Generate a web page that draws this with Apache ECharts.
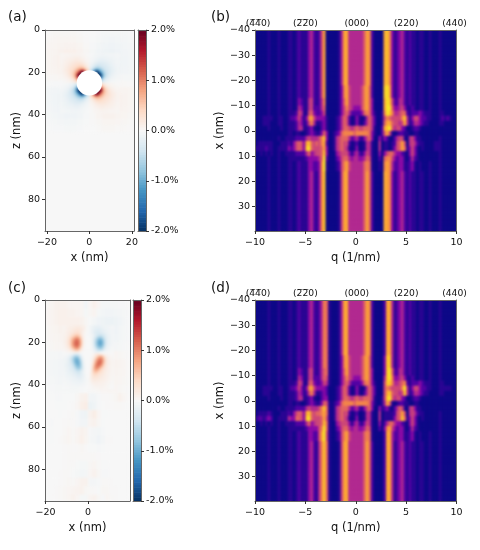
<!DOCTYPE html>
<html><head><meta charset="utf-8">
<style>
html,body{margin:0;padding:0;background:#fff}#c{width:480px;height:550px}
#c canvas[data-zr-dom-id="zr_1"]{filter:blur(1px);clip-path:path('M45 30H134V231H45Z M255 30H456.5V231H255Z M45 300H130V501H45Z M255 300H456.5V501H255Z')}
</style>
<script src="https://cdn.jsdelivr.net/npm/echarts@6/dist/echarts.min.js"></script>
</head><body><div id="c"></div>
<script>
// ---------- panel (b): intensity rows, 80 q-bins from -10 to 10, scale 0..10
const bFarTop=[0,0,0,0, 0,1,0,0, 0,1,0,0, 0,1,1,0, 1,2,1,1, 1,3,4,2, 1,2,5,8, 0,0,0,0, 0,1,4,8, 8,4,4,4, 4,4,4,6, 8,7,2,0, 0,0,0,8, 9,7,3,1, 2,3,4,2, 1,2,1,1, 0,1,1,0, 0,1,0,0, 0,1,0,0, 0,0,0,0];
const bM16=[0,0,0,0, 0,1,0,0, 0,1,0,0, 0,1,1,0, 1,2,1,1, 1,3,4,2, 1,2,5,8, 0,0,0,0, 0,1,3,7, 8,5,4,4, 4,4,5,7, 8,6,2,0, 0,0,0,9, 10,8,3,1, 2,3,4,2, 1,2,1,1, 0,1,1,0, 0,1,0,0, 0,1,0,0, 0,0,0,0];
const bM12=[0,0,0,0, 0,1,0,0, 0,1,0,0, 0,1,1,0, 1,3,2,1, 1,4,5,2, 1,2,4,7, 0,0,0,0, 0,1,3,6, 8,5,4,4, 4,4,5,7, 8,6,3,0, 0,0,0,8, 10,9,5,2, 2,4,4,2, 1,2,1,1, 0,1,1,0, 0,1,0,0, 0,1,0,0, 0,0,0,0];
const bM10=[0,0,0,0, 0,1,0,0, 0,1,0,0, 0,1,1,0, 1,4,3,1, 1,4,5,2, 2,2,4,6, 0,0,0,0, 0,1,3,5, 7,5,4,3, 3,3,5,7, 8,6,3,0, 0,0,0,8, 10,10,6,3, 3,4,5,3, 1,1,2,1, 0,1,1,0, 0,1,0,0, 0,1,0,0, 0,0,0,0];
const bM8=[0,0,0,0, 0,1,0,0, 0,1,0,0, 0,1,1,1, 2,5,4,1, 1,5,6,3, 2,2,3,5, 0,0,0,0, 0,1,3,5, 6,4,2,2, 2,2,3,6, 7,6,3,1, 0,0,1,7, 10,9,7,4, 4,5,6,6, 2,1,2,2, 2,3,2,1, 1,1,0,0, 0,1,1,0, 0,0,0,0];
const bM6=[0,0,0,1, 1,1,1,0, 0,1,1,0, 0,1,2,2, 3,5,3,1, 3,7,8,5, 3,3,3,3, 1,0,0,0, 1,2,4,6, 5,2,0,1, 3,1,0,1, 4,6,4,2, 0,0,1,5, 7,6,5,5, 5,5,7,9, 4,1,3,5, 5,3,2,2, 1,1,0,0, 0,1,2,1, 2,1,0,0];
const bM4=[0,0,0,1, 1,1,0,0, 0,1,1,0, 0,1,1,1, 2,4,3,1, 2,5,7,4, 1,1,2,3, 1,0,0,0, 1,2,4,6, 5,2,0,1, 3,1,0,2, 4,6,4,2, 0,0,1,6, 8,8,6,5, 5,4,5,8, 4,1,2,4, 4,3,2,1, 1,0,0,0, 0,1,1,0, 0,0,0,0];
const bM2=[0,0,0,0, 0,1,0,0, 0,0,1,0, 0,1,1,1, 2,4,4,1, 1,2,3,1, 0,0,2,3, 1,0,0,0, 1,2,4,6, 6,5,4,5, 6,5,5,6, 6,6,4,1, 0,0,2,8, 9,10,6,4, 5,5,3,2, 0,0,1,2, 2,1,0,0, 0,0,0,0, 0,0,0,0, 0,0,0,0];
const bP0=[0,0,0,0, 0,0,0,0, 0,0,0,0, 0,1,1,0, 1,1,0,0, 1,2,3,2, 1,1,3,6, 3,0,0,1, 2,3,6,7, 7,7,7,6, 7,7,7,7, 7,6,3,1, 0,0,2,6, 8,5,1,0, 1,2,2,1, 1,0,0,1, 1,0,0,0, 0,0,0,0, 0,0,0,0, 0,0,0,0];
const bP2=[0,0,0,0, 0,0,0,0, 0,1,0,0, 1,1,1,1, 2,2,2,2, 4,5,4,4, 4,5,7,9, 3,0,0,1, 4,5,6,6, 6,4,2,3, 4,2,1,3, 5,6,3,0, 0,3,1,3, 2,0,0,2, 4,5,5,1, 0,4,5,3, 1,1,0,0, 0,0,0,0, 0,1,0,0, 0,0,0,0];
const bP4=[0,1,1,1, 1,1,1,0, 0,0,1,1, 1,2,1,3, 5,6,5,3, 8,9,6,5, 6,5,7,8, 2,0,0,1, 4,5,6,5, 5,2,0,1, 2,0,0,1, 4,4,1,0, 0,4,0,1, 1,0,1,2, 5,6,8,5, 0,4,5,4, 2,1,1,0, 0,0,0,1, 1,1,0,0, 0,0,0,0];
const bP6=[1,1,1,1, 2,1,1,0, 0,1,1,1, 1,3,2,3, 5,6,5,3, 9,10,6,5, 5,5,6,8, 3,0,0,1, 4,5,6,5, 4,1,0,1, 3,0,0,1, 4,4,1,0, 0,4,0,1, 1,0,1,3, 5,6,8,6, 1,3,5,3, 1,0,1,0, 0,0,0,1, 1,1,0,0, 0,0,0,0];
const bP8=[0,0,1,0, 1,0,1,0, 0,1,0,0, 1,1,1,1, 2,2,2,2, 4,6,3,4, 5,5,6,9, 3,0,0,0, 3,4,5,5, 5,3,1,3, 4,2,1,3, 5,4,1,0, 0,3,0,3, 5,6,6,4, 3,3,2,1, 0,3,5,3, 1,0,0,0, 0,0,0,0, 0,1,0,0, 0,0,0,0];
const bP10=[0,0,0,0, 0,1,0,0, 0,1,0,0, 0,1,1,1, 1,1,1,1, 2,3,3,3, 3,4,6,10, 2,0,0,0, 2,3,5,6, 6,4,3,4, 4,3,3,4, 6,5,1,0, 0,2,0,6, 7,7,5,3, 2,3,3,1, 0,2,4,2, 1,0,0,0, 0,0,0,0, 0,1,0,0, 0,0,0,0];
const bP13=[0,0,0,0, 0,1,0,0, 0,1,0,0, 0,1,1,0, 1,2,1,1, 1,3,3,2, 2,3,7,10, 1,0,0,0, 1,2,5,7, 8,5,4,4, 4,4,4,6, 7,6,1,0, 0,1,0,7, 8,7,4,2, 2,3,3,1, 1,2,3,1, 0,1,0,0, 0,1,0,0, 0,1,0,0, 0,0,0,0];
const bFarLow=[0,0,0,0, 0,1,0,0, 0,1,0,0, 0,1,1,0, 1,2,1,1, 1,3,4,2, 1,3,7,9, 0,0,0,0, 0,1,5,8, 8,4,4,4, 4,4,4,6, 8,6,2,0, 0,0,0,8, 8,7,3,1, 2,3,4,2, 1,2,1,1, 0,1,1,0, 0,1,0,0, 0,1,0,0, 0,0,0,0];
const bLayout=[[bFarTop,22],[bM16,5],[bM12,3],[bM10,2],[bM8,2],[bM6,2],[bM4,2],[bM2,2],[bP0,2],[bP2,2],[bP4,2],[bP6,2],[bP8,2],[bP10,2],[bP13,4],[bFarLow,24]];

// ---------- panel (d)
const dFarTop=[0,0,0,0, 0,1,0,0, 0,1,0,0, 0,1,1,0, 1,2,1,1, 1,3,4,2, 1,2,4,7, 6,1,0,0, 0,1,4,8, 8,4,4,4, 4,4,4,6, 8,7,2,0, 0,0,0,2, 8,8,4,1, 2,3,4,2, 1,2,1,1, 0,1,1,0, 0,1,0,0, 0,1,0,0, 0,0,0,0];
const dM16=[0,0,0,0, 0,1,0,0, 0,1,0,0, 0,1,1,0, 1,2,1,1, 1,3,4,2, 1,2,4,7, 6,1,0,0, 0,1,3,7, 8,5,4,4, 4,4,5,7, 8,6,2,0, 0,0,0,3, 9,9,4,1, 2,3,4,2, 1,2,1,1, 0,1,1,0, 0,1,0,0, 0,1,0,0, 0,0,0,0];
const dM12=[0,0,0,0, 0,1,0,0, 0,1,0,0, 0,1,1,0, 1,3,2,1, 1,4,5,2, 1,2,4,6, 6,1,0,0, 0,1,3,6, 8,5,4,4, 4,4,5,7, 8,6,3,0, 0,0,0,3, 9,10,6,2, 2,4,4,2, 1,2,1,1, 0,1,1,0, 0,1,0,0, 0,1,0,0, 0,0,0,0];
const dM10=[0,0,0,0, 0,1,0,0, 0,1,0,0, 0,1,1,0, 1,4,3,1, 1,4,5,2, 2,2,4,6, 5,1,0,0, 0,1,3,5, 7,5,4,3, 3,3,5,7, 8,6,3,0, 0,0,0,4, 9,10,7,3, 3,4,5,3, 1,1,2,1, 0,1,1,0, 0,1,0,0, 0,1,0,0, 0,0,0,0];
const dM8=[0,0,0,0, 0,1,0,0, 0,1,0,0, 0,1,1,1, 2,5,4,1, 1,5,6,3, 2,2,3,5, 4,1,0,0, 0,1,3,5, 6,4,2,2, 2,2,3,6, 7,6,3,1, 0,0,0,5, 9,9,7,4, 4,5,6,7, 2,1,2,2, 2,3,2,1, 1,1,0,0, 0,1,1,0, 0,0,0,0];
const dM6=[0,0,0,1, 1,1,1,0, 0,1,1,0, 0,1,2,2, 3,5,3,1, 3,7,8,5, 3,3,3,3, 2,0,0,0, 1,2,4,6, 5,2,0,1, 3,1,0,1, 4,6,4,2, 0,0,0,5, 7,6,5,5, 5,5,7,10, 4,1,3,5, 5,3,2,2, 1,1,0,0, 0,1,1,1, 1,1,0,0];
const dM4=[0,0,0,1, 1,1,0,0, 0,1,1,0, 0,1,1,1, 2,4,3,1, 2,5,7,4, 1,1,2,3, 2,0,0,0, 1,2,4,6, 5,2,0,1, 3,1,0,2, 4,6,4,2, 0,0,0,5, 8,9,6,5, 5,4,5,9, 4,1,2,4, 4,3,2,1, 1,0,0,0, 0,1,1,0, 0,0,0,0];
const dM2=[0,0,0,0, 0,1,0,0, 0,0,1,0, 0,1,1,1, 2,4,4,1, 1,2,3,1, 0,0,2,3, 3,0,0,0, 1,2,4,6, 6,5,4,5, 6,5,5,6, 6,6,4,1, 0,0,1,5, 9,10,6,4, 5,5,3,2, 0,0,1,2, 2,1,0,0, 0,0,0,0, 0,0,0,0, 0,0,0,0];
const dP0=[0,0,0,0, 0,0,0,0, 0,0,0,0, 0,1,1,0, 1,1,0,0, 1,2,3,2, 1,1,3,6, 5,1,0,1, 2,3,6,7, 7,7,7,6, 7,7,7,7, 7,6,3,1, 0,0,1,4, 8,6,1,0, 1,2,2,1, 1,0,0,1, 1,0,0,0, 0,0,0,0, 0,0,0,0, 0,0,0,0];
const dP2=[0,0,0,0, 0,0,0,0, 0,1,0,0, 1,1,1,1, 2,2,2,2, 4,5,4,4, 4,5,7,9, 6,1,0,1, 4,5,6,6, 6,4,2,3, 4,2,1,3, 5,6,3,0, 0,3,1,2, 3,1,0,2, 4,6,5,1, 0,4,5,3, 1,1,0,0, 0,0,0,0, 0,0,0,0, 0,0,0,0];
const dP4=[0,1,1,1, 1,2,1,0, 0,0,1,1, 1,2,1,3, 5,6,5,3, 8,9,6,5, 6,6,7,8, 6,1,0,1, 4,5,6,5, 5,2,0,1, 2,0,0,1, 4,4,1,0, 0,4,0,1, 1,1,1,2, 5,6,8,5, 0,4,5,4, 2,1,1,0, 0,0,0,0, 0,1,0,0, 0,0,0,0];
const dP6=[1,2,2,1, 2,3,2,0, 0,1,1,1, 1,4,3,3, 6,6,5,3, 9,10,6,5, 5,5,6,8, 5,1,0,1, 4,5,6,5, 4,1,0,1, 3,0,0,1, 4,4,1,0, 0,4,0,1, 1,1,1,3, 5,6,9,6, 1,3,5,3, 1,0,1,0, 0,0,0,0, 0,1,0,0, 0,0,0,0];
const dP8=[0,0,1,0, 1,0,1,0, 0,1,0,0, 1,1,1,1, 2,2,2,2, 4,6,3,4, 5,5,6,9, 6,1,0,0, 3,4,5,5, 5,3,1,3, 4,2,1,3, 5,4,1,0, 0,3,0,2, 4,6,6,4, 3,3,2,1, 0,3,5,3, 1,0,0,0, 0,0,0,0, 0,1,0,0, 0,0,0,0];
const dP10=[0,0,0,0, 0,1,0,0, 0,1,0,0, 0,1,1,1, 1,1,1,1, 2,3,3,3, 3,5,7,10, 6,1,0,0, 2,3,5,6, 6,4,3,4, 4,3,3,4, 6,5,1,0, 0,2,0,3, 7,8,5,3, 2,3,3,1, 0,2,4,2, 1,0,0,0, 0,0,0,0, 0,1,0,0, 0,0,0,0];
const dP13=[0,0,0,0, 0,1,0,0, 0,1,0,0, 0,1,1,0, 1,2,1,1, 1,3,3,2, 2,5,8,10, 5,1,0,0, 1,2,5,7, 8,5,4,4, 4,4,4,6, 7,6,1,0, 0,0,0,2, 8,8,4,2, 2,3,3,1, 1,2,3,1, 0,1,0,0, 0,1,0,0, 0,1,0,0, 0,0,0,0];
const dFarLow=[0,0,0,0, 0,1,0,0, 0,1,0,0, 0,1,1,0, 1,2,1,1, 1,3,4,2, 1,4,7,9, 6,1,0,0, 0,1,5,8, 8,4,4,4, 4,4,4,6, 8,6,2,0, 0,0,0,2, 8,8,4,1, 2,3,4,2, 1,2,1,1, 0,1,1,0, 0,1,0,0, 0,1,0,0, 0,0,0,0];
const dLayout=[[dFarTop,22],[dM16,5],[dM12,3],[dM10,2],[dM8,2],[dM6,2],[dM4,2],[dM2,2],[dP0,2],[dP2,2],[dP4,2],[dP6,2],[dP8,2],[dP10,2],[dP13,4],[dFarLow,24]];

// ---------- panel (a): strain in 0.01 %. Fine block 1 nm, x -13.5..13.5, z 11.5..38.5
const aFine=[
[3,4,4,5,5,6,6,7,6,6,5,4,2,1,-1,-2,-4,-5,-6,-6,-7,-6,-6,-5,-5,-4,-4,-3],
[4,5,6,7,7,8,9,9,10,8,6,5,3,2,-2,-3,-5,-6,-8,-10,-9,-9,-8,-7,-7,-6,-5,-4],
[4,6,7,9,10,11,12,14,14,12,10,7,4,3,-3,-4,-7,-10,-12,-14,-14,-12,-11,-10,-9,-7,-6,-4],
[5,7,9,11,12,14,16,18,18,16,14,10,6,4,-4,-6,-10,-14,-16,-18,-18,-16,-14,-12,-11,-9,-7,-5],
[5,7,10,12,15,18,21,24,25,25,21,15,9,6,-6,-9,-15,-21,-25,-25,-24,-21,-18,-15,-12,-10,-7,-5],
[6,8,11,14,18,22,26,30,33,36,33,26,15,9,-9,-15,-26,-33,-36,-33,-30,-26,-22,-18,-14,-11,-8,-6],
[6,9,12,16,21,26,32,35,43,50,50,40,23,14,-14,-23,-40,-50,-50,-43,-35,-32,-26,-21,-16,-12,-9,-6],
[7,9,14,18,24,30,35,48,65,80,90,75,45,25,-25,-45,-75,-90,-80,-65,-48,-35,-30,-24,-18,-14,-9,-7],
[6,10,14,18,25,33,43,65,90,135,190,150,70,35,-35,-70,-150,-190,-135,-90,-65,-43,-33,-25,-18,-14,-10,-6],
[6,8,12,16,25,36,50,80,135,240,245,0,0,0,0,0,0,-245,-240,-135,-80,-50,-36,-25,-16,-12,-8,-6],
[5,6,10,14,21,33,50,90,190,245,0,0,0,0,0,0,0,0,-245,-190,-90,-50,-33,-21,-14,-10,-6,-5],
[4,5,7,10,15,26,40,75,150,0,0,0,0,0,0,0,0,0,0,-150,-75,-40,-26,-15,-10,-7,-5,-4],
[2,3,4,6,9,15,23,45,70,0,0,0,0,0,0,0,0,0,0,-70,-45,-23,-15,-9,-6,-4,-3,-2],
[1,2,3,4,6,9,14,25,35,0,0,0,0,0,0,0,0,0,0,-35,-25,-14,-9,-6,-4,-3,-2,-1],
[-1,-2,-3,-4,-6,-9,-14,-25,-35,0,0,0,0,0,0,0,0,0,0,35,25,14,9,6,4,3,2,1],
[-2,-3,-4,-6,-9,-15,-23,-45,-70,0,0,0,0,0,0,0,0,0,0,70,45,23,15,9,6,4,3,2],
[-4,-5,-7,-10,-15,-26,-40,-75,-150,0,0,0,0,0,0,0,0,0,0,150,75,40,26,15,10,7,5,4],
[-5,-6,-10,-14,-21,-33,-50,-90,-190,-245,0,0,0,0,0,0,0,0,245,190,90,50,33,21,14,10,6,5],
[-6,-8,-12,-16,-25,-36,-50,-80,-135,-240,-245,0,0,0,0,0,0,245,240,135,80,50,36,25,16,12,8,6],
[-6,-10,-14,-18,-25,-33,-43,-65,-90,-135,-190,-150,-70,-35,35,70,150,190,135,90,65,43,33,25,18,14,10,6],
[-7,-9,-14,-18,-24,-30,-35,-48,-65,-80,-90,-75,-45,-25,25,45,75,90,80,65,48,35,30,24,18,14,9,7],
[-6,-9,-12,-16,-21,-26,-32,-35,-43,-50,-50,-40,-23,-14,14,23,40,50,50,43,35,32,26,21,16,12,9,6],
[-6,-8,-11,-14,-18,-22,-26,-30,-33,-36,-33,-26,-15,-9,9,15,26,33,36,33,30,26,22,18,14,11,8,6],
[-5,-7,-10,-12,-15,-18,-21,-24,-25,-25,-21,-15,-9,-6,6,9,15,21,25,25,24,21,18,15,12,10,7,5],
[-5,-7,-9,-11,-12,-14,-16,-18,-18,-16,-14,-10,-6,-4,4,6,10,14,16,18,18,16,14,12,11,9,7,5],
[-4,-6,-7,-9,-10,-11,-12,-14,-14,-12,-10,-7,-4,-3,3,4,7,10,12,14,14,12,11,10,9,7,6,4],
[-4,-5,-6,-7,-7,-8,-9,-9,-10,-8,-6,-5,-3,-2,2,3,5,6,8,10,9,9,8,7,7,6,5,4],
[-3,-4,-4,-5,-5,-6,-6,-7,-6,-6,-5,-4,-2,-1,1,2,4,5,6,6,7,6,6,5,5,4,4,3]];
// coarse halo: 3 nm cells, x -19.5..19.5, z 1.5..46.5
const aCoarse=[
[2,3,3,3,3,2,0,0,-2,-3,-3,-3,-3,-2],
[3,4,5,5,5,3,1,-1,-3,-5,-6,-5,-4,-3],
[4,5,6,7,7,5,2,-2,-5,-7,-8,-7,-5,-4],
[5,6,8,10,10,7,3,-3,-7,-10,-11,-8,-6,-5],
[5,7,10,14,18,10,3,-3,-10,-18,-14,-10,-7,-5],
[5,7,10,14,20,12,3,-3,-12,-20,-14,-10,-7,-5],
[5,6,8,10,12,8,2,-2,-8,-12,-10,-8,-6,-5],
[3,3,4,4,4,2,1,-1,-2,-4,-4,-4,-3,-3],
[-1,-2,-2,-2,-2,-1,0,0,1,2,2,2,2,1],
[-5,-6,-7,-8,-8,-4,-1,1,4,8,8,7,6,5],
[-5,-7,-10,-12,-14,-8,-2,2,8,14,12,10,7,5],
[-5,-7,-10,-14,-18,-10,-3,3,10,18,14,10,7,5],
[-4,-6,-8,-10,-12,-8,-3,3,8,12,10,8,6,4],
[-3,-5,-6,-8,-8,-6,-2,2,6,8,8,6,5,3],
[-2,-3,-4,-5,-5,-3,-1,1,3,5,5,4,3,2],
[-1,-2,-2,-3,-3,-2,0,0,2,3,3,2,2,1]];
const holeCentre=[[0,25]];

// ---------- panel (c): fine block 1 nm, x -11.5..11.5, z 12.5..41.5
const cFine=[
[5,8,10,12,12,14,16,16,15,12,8,2,-2,-8,-12,-15,-15,-14,-12,-10,-8,-6,-5,-4],
[6,8,12,14,15,18,20,22,18,14,8,2,-2,-8,-14,-18,-20,-20,-16,-12,-10,-8,-6,-4],
[6,10,12,15,18,22,26,25,22,14,6,2,-3,-8,-16,-22,-24,-24,-20,-15,-12,-8,-6,-5],
[7,10,14,18,22,28,32,32,22,12,5,1,-2,-8,-18,-26,-30,-28,-22,-18,-14,-10,-7,-5],
[8,10,14,22,32,42,50,46,30,12,4,1,-2,-5,-12,-24,-34,-40,-38,-30,-20,-12,-8,-5],
[8,12,18,30,45,60,74,68,45,16,4,0,-1,-4,-14,-32,-50,-62,-55,-38,-22,-14,-9,-5],
[8,12,22,38,62,85,105,95,60,20,4,0,0,-3,-18,-45,-72,-90,-80,-50,-26,-14,-9,-5],
[8,14,24,42,72,100,118,108,70,22,3,0,0,-3,-20,-52,-85,-105,-95,-58,-28,-14,-9,-5],
[8,14,24,42,75,105,122,110,72,22,3,0,0,-3,-20,-55,-88,-108,-98,-60,-28,-14,-9,-5],
[7,12,22,40,70,100,118,104,66,18,3,0,0,-3,-18,-50,-82,-100,-90,-55,-24,-12,-8,-4],
[6,10,16,30,55,80,98,85,48,12,2,0,0,-2,-14,-38,-65,-80,-72,-42,-18,-9,-5,-3],
[4,6,10,18,32,52,65,55,28,6,1,0,0,-2,-8,-24,-42,-55,-48,-26,-12,-6,-3,-2],
[2,3,4,6,10,16,20,15,6,2,0,0,0,-1,-6,-14,-18,-14,-8,-5,-3,-2,-1,-1],
[-1,-2,-3,-6,-10,-18,-25,-18,-6,-2,0,0,0,1,5,15,20,16,10,6,4,2,1,1],
[-3,-5,-8,-16,-32,-52,-62,-50,-25,-6,0,0,0,2,8,24,45,62,58,32,14,7,4,2],
[-5,-8,-14,-26,-48,-75,-92,-78,-42,-10,-1,0,0,3,14,42,72,95,88,50,22,10,6,3],
[-6,-10,-16,-28,-50,-82,-102,-92,-55,-15,-2,0,0,4,20,58,92,112,100,58,26,12,7,4],
[-7,-10,-16,-26,-45,-75,-100,-98,-65,-20,-3,0,0,5,30,72,105,118,100,55,26,12,8,5],
[-7,-12,-18,-24,-36,-62,-90,-95,-68,-24,-4,0,0,8,40,85,112,112,85,45,22,12,8,5],
[-7,-12,-16,-22,-30,-48,-75,-85,-65,-26,-5,0,0,10,48,92,105,90,62,34,20,10,7,5],
[-6,-10,-15,-20,-26,-36,-58,-68,-55,-26,-6,0,0,12,52,85,85,62,40,26,16,10,7,5],
[-6,-10,-14,-18,-22,-28,-40,-46,-34,-16,-4,0,0,12,48,68,60,44,30,20,14,10,7,5],
[-5,-8,-12,-15,-18,-22,-30,-34,-30,-16,-5,0,1,14,40,50,42,32,24,18,12,10,6,4],
[-5,-8,-10,-12,-15,-18,-22,-26,-24,-15,-6,-1,2,14,32,36,30,24,20,15,12,8,6,4],
[-4,-6,-8,-10,-12,-14,-18,-20,-20,-14,-6,-1,2,14,26,26,24,20,16,14,10,8,5,3],
[-3,-5,-7,-8,-10,-12,-14,-15,-15,-12,-6,-2,3,12,20,20,18,16,14,12,10,6,5,3],
[-3,-4,-5,-6,-8,-9,-10,-12,-12,-10,-5,-2,3,10,15,15,14,13,12,10,8,5,4,2],
[-2,-3,-4,-5,-6,-7,-8,-8,-8,-6,-4,-1,2,6,10,11,11,10,10,8,6,4,3,2],
[-2,-3,-3,-4,-5,-5,-5,-6,-5,-4,-2,0,1,3,6,8,8,8,8,7,5,3,2,1],
[-1,-2,-2,-3,-3,-3,-3,-3,-2,-2,-1,0,1,1,3,4,5,6,6,5,4,3,2,1]];
// coarse cells: 2 nm wide, 4 nm tall, whole panel
const cCoarse=[
[3,5,8,8,8,6,5,5,4,-6,4,10,4,-3,-3,-3,-3,-2,-2,-1],
[4,6,8,10,10,8,8,6,5,-3,3,6,-3,-5,-6,-6,-5,-4,-3,-2],
[4,6,8,10,10,10,10,10,8,3,-1,-4,-8,-10,-12,-12,-10,-7,-4,-2],
[3,5,6,8,8,8,8,8,8,2,-2,-8,-8,-8,-8,-8,-8,-5,-3,-2],
[3,4,5,6,8,8,8,8,8,2,-2,-8,-8,-8,-8,-8,-7,-5,-3,-2],
[2,3,4,4,4,4,4,4,4,1,-1,-4,-4,-4,-4,-4,-4,-3,-2,-1],
[-2,-3,-3,-4,-4,-4,-4,-4,-4,-1,1,4,4,4,4,4,4,3,2,1],
[-3,-4,-5,-6,-8,-8,-8,-8,-8,-2,2,8,8,8,8,8,7,6,4,2],
[-3,-4,-5,-6,-6,-6,-6,-6,-6,-2,2,6,6,6,6,6,6,5,4,2],
[-2,-3,-4,-5,-5,-5,-5,-5,-5,-2,2,5,5,5,5,5,5,4,3,2],
[-1,-2,-3,-3,-3,-3,-3,-3,-2,-1,1,2,3,4,4,4,4,3,2,1],
[0,-1,-2,-2,-1,-1,-1,3,8,10,-6,-6,-2,1,1,2,3,8,4,1],
[0,0,-1,-1,-1,0,1,4,12,14,-12,-8,-2,0,1,1,2,2,1,0],
[0,0,0,-1,0,1,2,-2,-8,-10,8,14,4,-1,-1,0,0,0,0,0],
[0,-2,0,0,1,2,1,-2,-6,-6,6,8,3,-1,0,0,0,0,0,0],
[0,-1,0,0,2,4,2,4,8,6,-2,-4,-5,-2,0,0,0,0,0,0],
[0,-1,0,1,3,5,2,5,10,5,-3,-4,-8,-4,1,1,0,0,0,0],
[0,0,0,0,1,2,1,1,3,1,-1,-1,-2,-1,0,0,0,0,0,0],
[0,0,0,0,1,2,2,2,2,2,2,2,1,0,0,0,0,0,0,0],
[0,0,0,0,1,2,1,-1,-3,-3,3,5,2,-1,-1,0,0,0,0,0],
[0,0,0,1,2,2,-1,-3,-5,-4,4,8,3,-2,-2,0,0,0,0,0],
[0,0,0,1,2,3,2,4,8,8,-4,-4,-2,2,2,1,0,0,0,0],
[0,0,1,2,3,4,6,7,8,3,2,1,-1,3,3,1,1,0,0,0],
[0,0,1,2,3,5,8,4,-3,-3,6,8,3,-2,4,2,1,0,0,0]];

// ---------- colour bar levels, 0.01 %
const barLevels=[-200,-195,-190,-185,-180,-175,-170,-165,-160,-155,-150,-145,-140,-135,-130,-125,-120,-115,-110,-105,-100,-95,-90,-85,-80,-75,-70,-65,-60,-55,-50,-45,-40,-35,-30,-25,-20,-15,-10,-5,0,5,10,15,20,25,30,35,40,45,50,55,60,65,70,75,80,85,90,95,100,105,110,115,120,125,130,135,140,145,150,155,160,165,170,175,180,185,190,195,200];
const barTicks=[-2,-1,0,1,2];

// ---------- tick labels
const xTicksA=[-20,0,20], xTicksC=[-20,0], zTicks=[0,20,40,60,80];
const qTicks=[-10,-5,0,5,10], xnTicks=[-40,-30,-20,-10,0,10,20,30];
const topPos=[-9.7,-5,0.1,5,9.8];
const topLab=['(4\u03054\u03050)','(2\u03052\u03050)','(000)','(220)','(440)'];

const FONT='"DejaVu Sans"';
const RDBU=['#053061','#2166ac','#4393c3','#92c5de','#d1e5f0','#f7f7f7','#fddbc7','#f4a582','#d6604d','#b2182b','#67001f'];
const PLASMA=['#0d0887','#2a0593','#5302a3','#8b0aa5','#b12a90','#cc4778','#e16462','#f2844b','#fca636','#fbc32a','#f6e626'];
const minus=v=>String(v).replace('-','\u2212');

const grid=[],xAxis=[],yAxis=[],series=[],rdSeries=[],plSeries=[];
function valAxis(g,o){
  const a={type:'value',gridIndex:g,position:o.pos,min:o.min,max:o.max,inverse:!!o.inverse,zlevel:2,z:10,
    splitLine:{show:false},
    axisLine:{show:true,onZero:false,lineStyle:{color:'#666',width:1}},
    axisTick:{show:o.tick!==false,length:3,customValues:o.ticks,lineStyle:{color:'#333',width:1}},
    axisLabel:{show:!!o.ticks,customValues:o.ticks,margin:o.margin||5,fontFamily:FONT,fontSize:9.5,color:'#111',hideOverlap:false,formatter:o.fmt||minus}};
  if(o.name){a.name=o.name;a.nameLocation='middle';a.nameGap=o.gap;a.nameTextStyle={fontFamily:FONT,fontSize:11.5,color:'#111'};}
  return a;
}
function spine(g,list,pos,min,max){
  const a=valAxis(g,{pos,min,max,tick:false});
  a.axisLabel={show:false};a.axisTick={show:false};
  list.push(a);
}
function panel(rect,xo,yo){
  const g=grid.length;
  grid.push(Object.assign({show:!!rect.backgroundColor,borderWidth:0},rect));
  const xi=xAxis.length,yi=yAxis.length;
  xAxis.push(valAxis(g,Object.assign({pos:'bottom',margin:7},xo)));
  yAxis.push(valAxis(g,Object.assign({pos:'left',inverse:true},yo)));
  spine(g,yAxis,'right',0,1);
  return {g,xi,yi};
}
function cells(p,dx,dy,data,list,zlevel){
  series.push({type:'custom',xAxisIndex:p.xi,yAxisIndex:p.yi,data,zlevel,silent:true,progressive:0,animation:false,clip:true,
    encode:{x:0,y:1},
    renderItem:(params,api)=>{
      const c=api.coord([api.value(0),api.value(1)]),s=api.size([dx,dy]);
      return {type:'rect',shape:{x:c[0]-s[0]/2,y:c[1]-s[1]/2,width:s[0]+0.6,height:s[1]+0.6},style:{fill:api.visual('color')}};
    }});
  list.push(series.length-1);
}
function blockData(rows,x0,dx,y0,dy){
  const out=[];
  rows.forEach((row,r)=>row.forEach((v,c)=>out.push([x0+c*dx,y0+r*dy,v])));
  return out;
}
function layoutData(layout,x0,dx,y0,dy){
  const out=[];let r=0;
  layout.forEach(([row,count])=>{for(let k=0;k<count;k++,r++)row.forEach((v,c)=>out.push([x0+c*dx,y0+r*dy,v]));});
  return out;
}
function colorbar(left,top){
  const g=grid.length;
  grid.push({show:false,left,top,width:8,height:201});
  const p={g,xi:xAxis.length,yi:yAxis.length};
  const bx=valAxis(g,{pos:'bottom',min:0,max:1,tick:false});bx.axisLabel={show:false};bx.axisTick={show:false};
  xAxis.push(bx);
  yAxis.push(valAxis(g,{pos:'right',min:-2,max:2,ticks:barTicks,fmt:v=>Number(v).toFixed(1)+'%'}));
  spine(g,xAxis,'top',0,1);
  spine(g,yAxis,'left',0,1);
  cells(p,1,0.05,barLevels.map(v=>[0.5,v/100,v]),rdSeries,0);
}
function qPanel(top,layout,xName){
  const p=panel({left:255,top,width:201.5,height:201},
    {min:-10,max:10,ticks:qTicks,name:xName,gap:21},
    {min:-40,max:39.7,ticks:xnTicks,name:'x (nm)',gap:29});
  const data=layoutData(layout,-9.875,0.25,-39.5,1);
  cells(p,0.25,1,data,plSeries,0);
  cells(p,0.25,1,data,plSeries,1);
  const a=valAxis(p.g,{pos:'top',min:-10,max:10,ticks:topPos,tick:false,margin:2,fmt:v=>topLab[topPos.indexOf(Number(v))]});
  a.axisLabel.fontSize=9.2;
  xAxis.push(a);
}

// (a)
const pa=panel({left:45,top:30,width:89,height:201,backgroundColor:'#f7f7f7'},
  {min:-20.9,max:21,ticks:xTicksA,name:'x (nm)',gap:21},
  {min:0,max:95,ticks:zTicks,name:'z (nm)',gap:22});
spine(pa.g,xAxis,'top',0,1);
cells(pa,3,3,blockData(aCoarse,-19.5,3,1.5,3),rdSeries,1);
cells(pa,1,1,blockData(aFine,-13.5,1,11.5,1),rdSeries,1);
series.push({type:'scatter',xAxisIndex:pa.xi,yAxisIndex:pa.yi,data:holeCentre,symbol:'circle',symbolSize:25.4,itemStyle:{color:'#fff',opacity:1},silent:true,zlevel:2,animation:false});
colorbar(138,30);
// (c)
const pc=panel({left:45,top:300,width:85,height:201,backgroundColor:'#f7f7f7'},
  {min:-20.3,max:19.8,ticks:xTicksC,name:'x (nm)',gap:21},
  {min:0,max:95,ticks:zTicks,name:'z (nm)',gap:22});
spine(pc.g,xAxis,'top',0,1);
cells(pc,2,4,blockData(cCoarse,-19,2,2,4),rdSeries,1);
cells(pc,1,1,blockData(cFine,-11.5,1,12.5,1),rdSeries,1);
colorbar(133,300);
// (b) (d)
qPanel(30,bLayout,'q (1/nm)');
qPanel(300,dLayout,'q (1/nm)');

const title=[['(a)',8,10],['(b)',211,10],['(c)',8,281],['(d)',211,281]].map(([text,left,top])=>({text,left,top,padding:0,textStyle:{fontFamily:FONT,fontSize:13.5,fontWeight:'normal',color:'#111'}}));

const chart=echarts.init(document.getElementById('c'),null,{renderer:'canvas'});
chart.setOption({animation:false,backgroundColor:'#fff',title,grid,xAxis,yAxis,series,
  visualMap:[
    {type:'continuous',show:false,min:-200,max:200,dimension:2,seriesIndex:rdSeries,inRange:{color:RDBU}},
    {type:'continuous',show:false,min:0,max:10,dimension:2,seriesIndex:plSeries,inRange:{color:PLASMA}}
  ]});
</script>
</body></html>
